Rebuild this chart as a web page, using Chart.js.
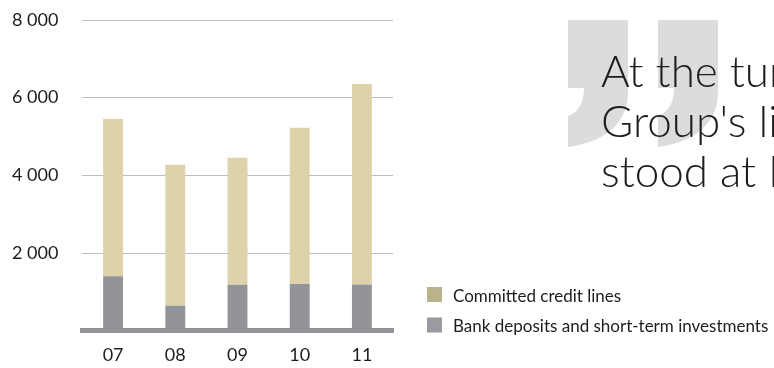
<!DOCTYPE html>
<html>
<head>
<meta charset="utf-8">
<script src="https://cdn.jsdelivr.net/npm/chart.js@4"></script>
<style>
  html, body { margin: 0; padding: 0; background: #fff; }
  #wrap { width: 774px; height: 368px; }
</style>
</head>
<body>
<div id="wrap"><canvas id="liquidityChart" width="774" height="368"></canvas></div>
<script>
// Liquidity reserve per year (NOK million)
const years = ['07', '08', '09', '10', '11'];
const bankDeposits = [1400, 640, 1180, 1200, 1190];
const creditLines = [4050, 3630, 3270, 4025, 5160];
const yTicks = [0, 2000, 4000, 6000, 8000];

const quoteLines = ['At the turn of the year, the', "Group's liquidity reserve", 'stood at NOK 6.4 billion'];

const TEXT = '#1d1d1b';
const GREY = '#939498';
const BEIGE = '#ddd2a9';

// draws the big quote marks, the quote and the legend beside the chart
const sidePanel = {
    id: 'sidePanel',
    beforeDraw(chart) {
        const ctx = chart.ctx;
        ctx.save();
        ctx.fillStyle = '#dcdcdc';
        [568, 658].forEach(left => {
            const w = 60, top = 20;
            ctx.beginPath();
            ctx.moveTo(left, top);
            ctx.lineTo(left + w, top);
            ctx.lineTo(left + w, top + 72);
            ctx.bezierCurveTo(left + w, top + 105, left + 35, top + 122, left, top + 127);
            ctx.lineTo(left, top + 96);
            ctx.bezierCurveTo(left + 10, top + 92, left + 16, top + 84, left + 16, top + 68);
            ctx.lineTo(left, top + 68);
            ctx.closePath();
            ctx.fill();
        });
        ctx.restore();
    },
    afterDraw(chart) {
        const ctx = chart.ctx;
        ctx.save();
        ctx.fillStyle = TEXT;
        ctx.textBaseline = 'alphabetic';
        ctx.font = '300 44px Lato';
        quoteLines.forEach((line, i) => ctx.fillText(line, 601, 87 + i * 50));

        // legend, top item is the upper stack
        const items = chart.data.datasets.slice().reverse();
        ctx.font = '17px Lato';
        items.forEach((ds, i) => {
            const y = 287 + i * 30.5;
            ctx.fillStyle = ds.legendColor;
            ctx.fillRect(427, y, 15, 15);
            ctx.fillStyle = TEXT;
            ctx.fillText(ds.label, 453, y + 14.5);
        });
        ctx.restore();
    }
};

const ctx = document.getElementById('liquidityChart').getContext('2d');
new Chart(ctx, {
    type: 'bar',
    data: {
        labels: years,
        datasets: [
            {
                label: 'Bank deposits and short-term investments',
                data: bankDeposits,
                backgroundColor: GREY,
                legendColor: '#9a9ba0',
            },
            {
                label: 'Committed credit lines',
                data: creditLines,
                backgroundColor: BEIGE,
                legendColor: '#b8b38d',
            },
        ],
    },
    options: {
        responsive: false,
        animation: false,
        layout: { padding: { left: 12, top: 20, right: 381, bottom: 0 } },
        plugins: { legend: { display: false }, tooltip: { enabled: false } },
        datasets: { bar: { categoryPercentage: 1, barPercentage: 0.32 } },
        scales: {
            x: {
                stacked: true,
                grid: { display: false, drawTicks: false },
                border: { display: true, color: GREY, width: 5 },
                ticks: { color: TEXT, font: { family: 'Lato', size: 18 }, padding: 14 },
                afterFit: scale => { scale.height = 37.3; },
            },
            y: {
                stacked: true,
                min: 0,
                max: 8000,
                afterBuildTicks: scale => { scale.ticks = yTicks.map(v => ({ value: v })); },
                grid: { color: '#bdbdc1', lineWidth: 1, drawTicks: false },
                border: { display: false },
                ticks: {
                    color: TEXT,
                    crossAlign: 'far',
                    font: { family: 'Lato', size: 18 },
                    callback: v => v === 0 ? '' : String(v).replace(/\B(?=(\d{3})+$)/g, ' '),
                },
                afterFit: scale => { scale.width = 70; },
            },
        },
    },
    plugins: [sidePanel],
});
</script>
</body>
</html>
